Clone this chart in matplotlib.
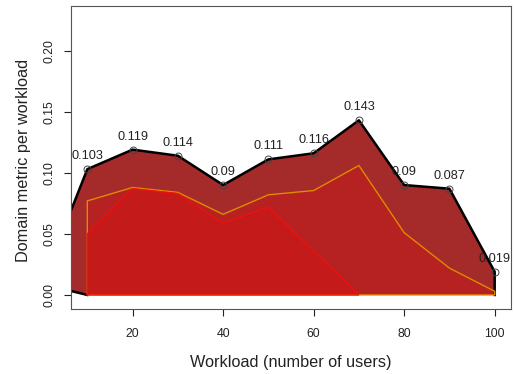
import matplotlib
matplotlib.use('Agg')
from matplotlib import pyplot as plt

plt.rcParams['font.family'] = ['Liberation Sans', 'DejaVu Sans']

# workload levels (number of users)
users = [10, 20, 30, 40, 50, 60, 70, 80, 90, 100]

# total domain metric per workload (black outline, labelled)
total = [0.103, 0.119, 0.114, 0.09, 0.111, 0.116, 0.143, 0.09, 0.087, 0.019]
# start point of the outer polygon
start_x = 0
start_y = 0.009

# second layer (orange outline)
orange_vals = [0.077, 0.088, 0.084, 0.066, 0.082, 0.0855, 0.106, 0.051, 0.022, 0.003]

# third layer (red outline)
red_users = [10, 20, 30, 40, 50, 60, 70]
red_vals = [0.050, 0.087, 0.083, 0.059, 0.072, 0.036, 0.0]


def polygon(xs, ys):
    px = list(xs) + [xs[-1], xs[0]]
    py = list(ys) + [0, 0]
    return px, py


fig = plt.figure(figsize=(5.15, 3.74), dpi=100)
ax = fig.add_axes([0.1379, 0.1738, 0.8543, 0.8102])

# outer polygon: fill, then outline without the bottom edge
ox = [start_x] + users + [users[-1], users[0]]
oy = [start_y] + total + [0, 0]
ax.fill(ox, oy, facecolor='#A52A2A', edgecolor='none', zorder=1)
ax.plot(ox[:-1], oy[:-1], color='black', linewidth=1.8, zorder=1.5)
ax.plot([ox[-1], ox[0]], [oy[-1], oy[0]], color='black', linewidth=1.8, zorder=1.5)

# orange layer
px, py = polygon(users, orange_vals)
ax.fill(px, py, facecolor=(1, 0, 0, 0.2), edgecolor='#E08A00', linewidth=1.0, zorder=2)

# red layer
px, py = polygon(red_users, red_vals)
ax.fill(px, py, facecolor=(1, 0, 0, 0.2), edgecolor='#F01010', linewidth=1.0, zorder=3)

# points and labels
ax.plot(users, total, linestyle='none', marker='o', markersize=5,
        markerfacecolor='none', markeredgecolor='#444444', markeredgewidth=0.7, zorder=4)
for x, v in zip(users, total):
    ax.annotate(str(v), (x, v), xytext=(0, 13), textcoords='offset pixels',
                ha='center', va='center', fontsize=9.2, color='#222222', zorder=5)

ax.set_xlim(6.4, 103.6)
ax.set_ylim(-0.0115, 0.2366)
ax.set_xticks([20, 40, 60, 80, 100])
ax.set_yticks([0.0, 0.05, 0.10, 0.15, 0.20])
ax.set_yticklabels(['0.00', '0.05', '0.10', '0.15', '0.20'], rotation=90, va='center')
ax.tick_params(direction='out', length=5, width=0.8, colors='#222222', labelsize=8.8, pad=6)
ax.tick_params(axis='x', pad=9)
for s in ax.spines.values():
    s.set_color('#555555')
    s.set_linewidth(0.8)

fig.text(0.565, 0.032, 'Workload (number of users)', ha='center', va='center',
         fontsize=11.7, color='#222222')
fig.text(0.045, 0.572, 'Domain metric per workload', ha='center', va='center',
         rotation=90, fontsize=11.7, color='#222222')

fig.savefig('out.png', dpi=100)
